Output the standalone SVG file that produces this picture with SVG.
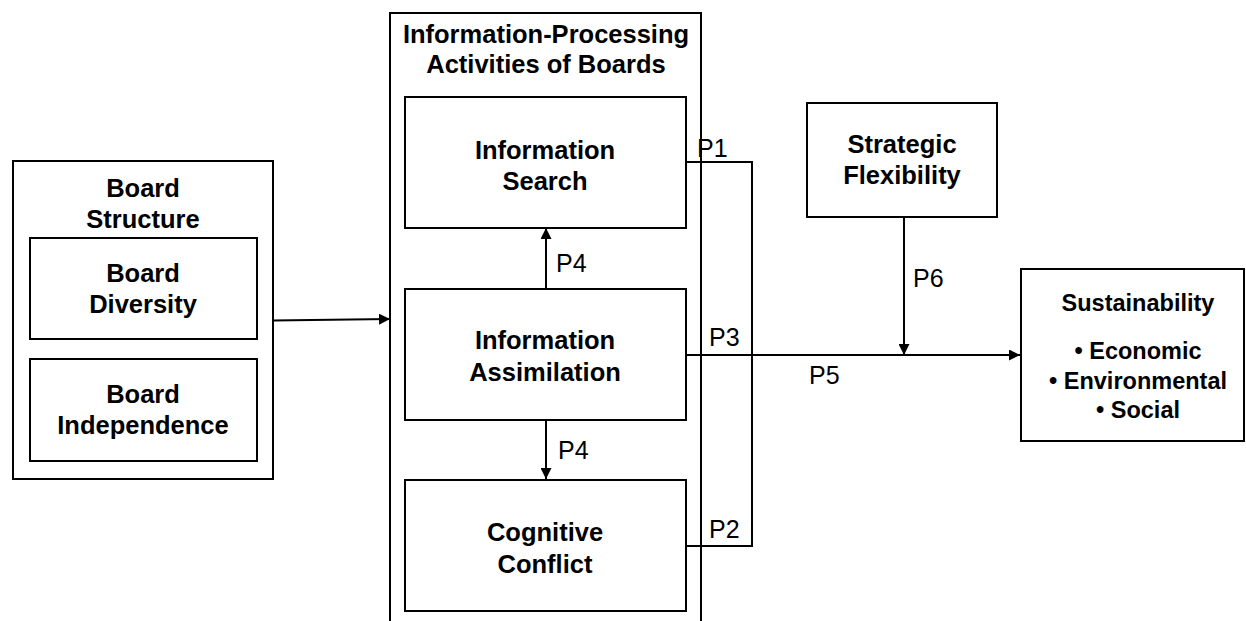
<svg xmlns="http://www.w3.org/2000/svg" width="1246" height="621" viewBox="0 0 1246 621">
<style>
.box{fill:#fff;stroke:#000;stroke-width:2}
.frame{fill:none;stroke:#000;stroke-width:2}
.t{font-family:"Liberation Sans",Arial,sans-serif;font-weight:bold;font-size:25.5px;fill:#000;text-anchor:middle}
.s{font-family:"Liberation Sans",Arial,sans-serif;font-weight:bold;font-size:23.5px;fill:#000;text-anchor:middle}
.lbl{font-family:"Liberation Sans",Arial,sans-serif;font-size:25px;fill:#000}
.c{fill:none;stroke:#000;stroke-width:2}
</style>
<defs>
<marker id="ah" viewBox="0 0 10 10" refX="10" refY="5" markerWidth="11" markerHeight="11" markerUnits="userSpaceOnUse" orient="auto">
<path d="M0,0 L10,5 L0,10 z" fill="#000"/>
</marker>
</defs>
<rect width="1246" height="621" fill="#fff"/>

<g id="board-structure">
<rect class="frame" x="13" y="161" width="260" height="318"/>
<text class="t" x="143" y="197">Board</text>
<text class="t" x="143" y="228">Structure</text>
</g>
<g id="board-diversity">
<rect class="box" x="30" y="238" width="227" height="101"/>
<text class="t" x="143" y="282">Board</text>
<text class="t" x="143" y="313">Diversity</text>
</g>
<g id="board-independence">
<rect class="box" x="30" y="359" width="227" height="102"/>
<text class="t" x="143" y="403">Board</text>
<text class="t" x="143" y="434">Independence</text>
</g>

<g id="info-processing">
<rect class="frame" x="390" y="13" width="311" height="640"/>
<text class="t" x="546" y="43">Information-Processing</text>
<text class="t" x="546" y="73">Activities of Boards</text>
</g>
<g id="info-search">
<rect class="box" x="405" y="97" width="281" height="131"/>
<text class="t" x="545" y="159">Information</text>
<text class="t" x="545" y="190">Search</text>
</g>
<g id="info-assimilation">
<rect class="box" x="405" y="289" width="281" height="131"/>
<text class="t" x="545" y="349">Information</text>
<text class="t" x="545" y="381">Assimilation</text>
</g>
<g id="cognitive-conflict">
<rect class="box" x="405" y="480" width="281" height="131"/>
<text class="t" x="545" y="541">Cognitive</text>
<text class="t" x="545" y="573">Conflict</text>
</g>

<g id="strategic-flexibility">
<rect class="box" x="807" y="103" width="190" height="114"/>
<text class="t" x="902" y="153">Strategic</text>
<text class="t" x="902" y="184">Flexibility</text>
</g>

<g id="sustainability">
<rect class="box" x="1021" y="269" width="223" height="172"/>
<text class="s" x="1138" y="311">Sustainability</text>
<text class="s" x="1138" y="359">• Economic</text>
<text class="s" x="1138" y="389">• Environmental</text>
<text class="s" x="1138" y="418">• Social</text>
</g>

<g id="connectors">
<line class="c" x1="273" y1="320.5" x2="390" y2="319" marker-end="url(#ah)"/>
<line class="c" x1="546" y1="289" x2="546" y2="228" marker-end="url(#ah)"/>
<line class="c" x1="546" y1="420" x2="546" y2="479" marker-end="url(#ah)"/>
<polyline class="c" points="686,162 752,162 752,546 686,546"/>
<line class="c" x1="686" y1="355" x2="1020" y2="355" marker-end="url(#ah)"/>
<line class="c" x1="904" y1="217" x2="904" y2="355" marker-end="url(#ah)"/>
<text class="lbl" x="556" y="272">P4</text>
<text class="lbl" x="558" y="459">P4</text>
<text class="lbl" x="697" y="157">P1</text>
<text class="lbl" x="709" y="346">P3</text>
<text class="lbl" x="709" y="538">P2</text>
<text class="lbl" x="809" y="384">P5</text>
<text class="lbl" x="913" y="287">P6</text>
</g>
</svg>
